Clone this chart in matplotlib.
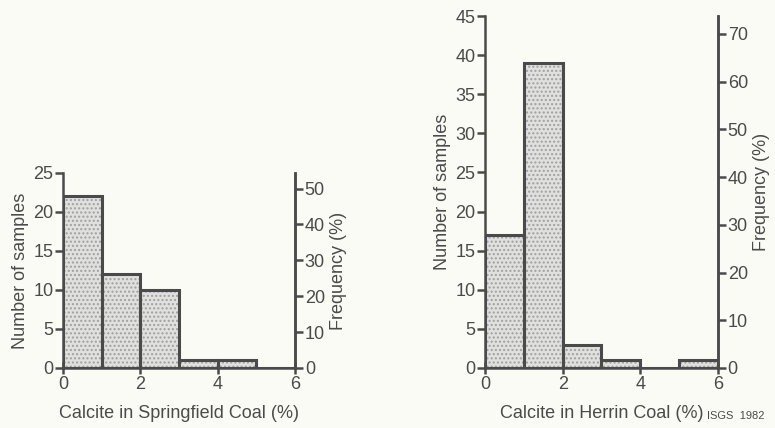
import numpy as np
import matplotlib
matplotlib.use('Agg')
import matplotlib.pyplot as plt

# ── Data ─────────────────────────────────────────────────────────────────────
bin_edges = [0, 1, 2, 3, 4, 5]          # left edge of each 1 % calcite class
springfield_counts = [22, 12, 10, 1, 1, 0]
herrin_counts = [17, 39, 3, 1, 0, 1]

spring_yticks = [0, 5, 10, 15, 20, 25]
herrin_yticks = [0, 5, 10, 15, 20, 25, 30, 35, 40, 45]
spring_freq_ticks = [0, 10, 20, 30, 40, 50]
herrin_freq_ticks = [0, 10, 20, 30, 40, 50, 60, 70]
xticks = [0, 2, 4, 6]

# ── Style ────────────────────────────────────────────────────────────────────
plt.rcParams['font.family'] = ['Liberation Sans', 'DejaVu Sans']
INK = '#4a4a4a'
BG = '#fbfbf6'
FILL = '#e0e0de'
DOTS = '#a0a0a0'

fig = plt.figure(figsize=(7.75, 4.28), dpi=100, facecolor=BG)


def histo(ax, counts, ymax, yticks, fticks, xlabel):
    n_total = sum(counts)
    # stippled fill, then the dark outline on top
    ax.bar(bin_edges, counts, width=1, align='edge', color=FILL,
           edgecolor=DOTS, hatch='....', linewidth=0, zorder=2)
    ax.bar(bin_edges, counts, width=1, align='edge', fill=False,
           edgecolor=INK, linewidth=2.2, zorder=3)
    ax.set_xlim(0, 6)
    ax.set_ylim(0, ymax)
    ax.set_facecolor(BG)
    ax.set_xticks(xticks)
    ax.set_yticks(yticks)
    for s in ['left', 'bottom', 'right']:
        ax.spines[s].set_color(INK)
        ax.spines[s].set_linewidth(1.8)
    ax.spines['top'].set_visible(False)
    ax.tick_params(axis='x', direction='inout', length=9, width=1.8,
                   colors=INK, labelsize=13, pad=1)
    ax.tick_params(axis='y', direction='out', length=6, width=1.8,
                   colors=INK, labelsize=13, pad=1)
    ax.set_xlabel(xlabel, fontsize=13, color=INK, labelpad=9)
    ax.set_ylabel('Number of samples', fontsize=13, color=INK, labelpad=3)

    # frequency scale on the right
    ax2 = ax.twinx()
    ax2.set_ylim(0, ymax / n_total * 100)
    ax2.set_yticks(fticks)
    for s in ['left', 'bottom', 'top']:
        ax2.spines[s].set_visible(False)
    ax2.spines['right'].set_color(INK)
    ax2.spines['right'].set_linewidth(1.8)
    ax2.tick_params(axis='y', direction='out', length=6, width=1.8,
                    colors=INK, labelsize=13, pad=1)
    ax2.set_ylabel('Frequency (%)', fontsize=13, color=INK, labelpad=4)
    return ax, ax2


ax_l = fig.add_axes([0.0813, 0.1402, 0.2994, 0.4556])
histo(ax_l, springfield_counts, 25, spring_yticks, spring_freq_ticks,
      'Calcite in Springfield Coal (%)')

ax_r = fig.add_axes([0.6258, 0.1402, 0.3006, 0.8224])
histo(ax_r, herrin_counts, 45, herrin_yticks, herrin_freq_ticks,
      'Calcite in Herrin Coal (%)')

fig.text(0.912, 0.022, 'ISGS  1982', fontsize=8, color=INK)

plt.savefig('out.png', dpi=100, facecolor=BG)
plt.close()
